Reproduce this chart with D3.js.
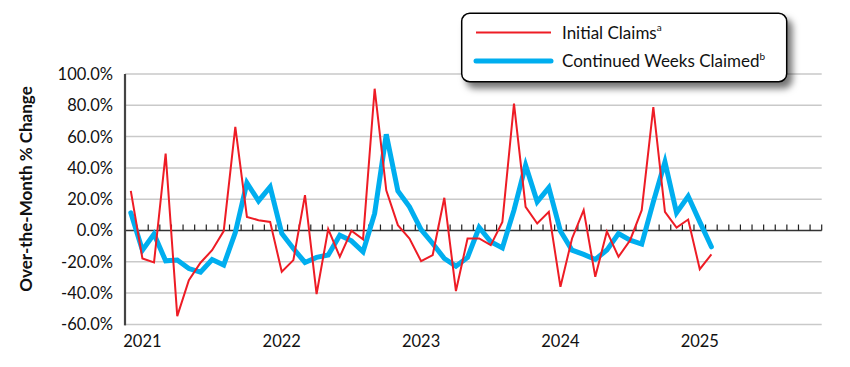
<!DOCTYPE html>
<html>
<head>
<meta charset="utf-8">
<script src="https://cdn.jsdelivr.net/npm/d3@7"></script>
<style>
  html, body { margin: 0; padding: 0; background: #fff; }
  svg { display: block; font-family: Lato, "Open Sans", sans-serif; }
</style>
</head>
<body>
<svg id="chart" width="850" height="367"></svg>
<script>
// Axis months (60 bands); data series cover the first 51
const months = [
  "Dec 2020","Jan 2021","Feb 2021","Mar 2021","Apr 2021","May 2021","Jun 2021","Jul 2021","Aug 2021","Sep 2021","Oct 2021","Nov 2021",
  "Dec 2021","Jan 2022","Feb 2022","Mar 2022","Apr 2022","May 2022","Jun 2022","Jul 2022","Aug 2022","Sep 2022","Oct 2022","Nov 2022",
  "Dec 2022","Jan 2023","Feb 2023","Mar 2023","Apr 2023","May 2023","Jun 2023","Jul 2023","Aug 2023","Sep 2023","Oct 2023","Nov 2023",
  "Dec 2023","Jan 2024","Feb 2024","Mar 2024","Apr 2024","May 2024","Jun 2024","Jul 2024","Aug 2024","Sep 2024","Oct 2024","Nov 2024",
  "Dec 2024","Jan 2025","Feb 2025","Mar 2025","Apr 2025","May 2025","Jun 2025","Jul 2025","Aug 2025","Sep 2025","Oct 2025","Nov 2025"
];
const yearLabels = ["2021","2022","2023","2024","2025"];
const yearLabelMonths = ["Jan 2021","Jan 2022","Jan 2023","Jan 2024","Jan 2025"];
const yTicks = [-60, -40, -20, 0, 20, 40, 60, 80, 100];

const initialClaims = [
  25.3, -17.9, -20.4, 49.1, -54.7, -31.7, -20.6, -12.6, -0.4, 66.2, 8.7, 6.6,
  5.5, -26.4, -18.9, 22.6, -40.6, 0.9, -16.8, -0.2, -5.7, 90.6, 25.7, 3.4,
  -5.1, -19.6, -15.7, 20.9, -38.7, -5.1, -5.1, -9.4, 5.5, 81.1, 15.1, 4.5,
  11.9, -36.0, -5.1, 13.0, -29.6, -0.6, -16.8, -6.2, 13.0, 78.9, 11.9, 1.9,
  7.0, -24.7, -15.3
];
const continuedWeeks = [
  11.3, -12.6, -2.3, -19.4, -18.9, -24.3, -26.6, -18.5, -22.1, -1.3, 30.4, 18.9,
  27.9, -1.9, -11.5, -20.4, -17.2, -15.7, -3.0, -6.6, -13.6, 10.9, 61.5, 25.3,
  15.1, 0.6, -8.3, -17.9, -22.8, -17.2, 1.9, -7.2, -11.1, 13.0, 41.7, 18.3,
  27.4, -0.4, -12.6, -15.3, -18.5, -12.5, -1.9, -6.2, -8.7, 18.3, 43.8, 11.3,
  21.9, 5.5, -10.4
];
const seriesNames = ["Initial Claims", "Continued Weeks Claimed"];
const seriesSup = ["a", "b"];

const svg = d3.select("#chart");
const plotLeft = 125, plotRight = 821.7, plotTop = 74, plotBottom = 324.4;

const x = d3.scaleBand().domain(months).range([plotLeft, plotRight]).padding(0);
const y = d3.scaleLinear().domain([-60, 100]).range([plotBottom, plotTop]);
const cx = m => x(m) + x.bandwidth() / 2;

// gridlines
svg.append("g").selectAll("line")
  .data(yTicks.filter(d => d !== 0))
  .join("line")
  .attr("x1", plotLeft).attr("x2", plotRight)
  .attr("y1", d => y(d)).attr("y2", d => y(d))
  .attr("stroke", "#c9c9c9").attr("stroke-width", 1.5);

// y tick labels
svg.append("g").selectAll("text")
  .data(yTicks)
  .join("text")
  .attr("x", 113).attr("y", d => y(d))
  .attr("dy", "0.36em")
  .attr("text-anchor", "end")
  .attr("font-size", 16.5)
  .attr("fill", "#111")
  .text(d => d.toFixed(1) + "%");

// y title
svg.append("text")
  .attr("transform", "translate(32,189) rotate(-90)")
  .attr("text-anchor", "middle")
  .attr("font-size", 17)
  .attr("font-weight", "bold")
  .attr("fill", "#111")
  .text("Over-the-Month % Change");

// zero line with tick marks
const zeroY = y(0);
svg.append("line")
  .attr("x1", plotLeft).attr("x2", plotRight)
  .attr("y1", zeroY).attr("y2", zeroY)
  .attr("stroke", "#333").attr("stroke-width", 1.5);
svg.append("g").selectAll("line")
  .data(months.slice(1).concat(["__end"]))
  .join("line")
  .attr("x1", d => d === "__end" ? plotRight : x(d))
  .attr("x2", d => d === "__end" ? plotRight : x(d))
  .attr("y1", zeroY).attr("y2", zeroY - 6)
  .attr("stroke", "#222").attr("stroke-width", 1.2);

// left axis line
svg.append("line")
  .attr("x1", plotLeft).attr("x2", plotLeft)
  .attr("y1", plotTop).attr("y2", plotBottom + 1)
  .attr("stroke", "#444").attr("stroke-width", 2.2);

// year labels
svg.append("g").selectAll("text")
  .data(yearLabels)
  .join("text")
  .attr("x", (d, i) => cx(yearLabelMonths[i]))
  .attr("y", 347)
  .attr("text-anchor", "middle")
  .attr("font-size", 16.5)
  .attr("fill", "#111")
  .text(d => d);

// lines
const dataMonths = months.slice(0, initialClaims.length);
const line = d3.line().x((d, i) => cx(dataMonths[i])).y(d => y(d));

svg.append("path")
  .datum(continuedWeeks)
  .attr("d", line)
  .attr("fill", "none")
  .attr("stroke", "#00aeef")
  .attr("stroke-width", 5)
  .attr("stroke-linejoin", "miter")
  .attr("stroke-linecap", "round");

svg.append("path")
  .datum(initialClaims)
  .attr("d", line)
  .attr("fill", "none")
  .attr("stroke", "#ee1c25")
  .attr("stroke-width", 2)
  .attr("stroke-linejoin", "miter");

// legend
const defs = svg.append("defs");
const f = defs.append("filter").attr("id", "shadow")
  .attr("x", "-10%").attr("y", "-20%").attr("width", "130%").attr("height", "160%");
f.append("feDropShadow")
  .attr("dx", 5).attr("dy", 6).attr("stdDeviation", 3.5)
  .attr("flood-color", "#000").attr("flood-opacity", 0.55);

const lg = svg.append("g");
lg.append("rect")
  .attr("x", 461.7).attr("y", 13.3)
  .attr("width", 325).attr("height", 68.4)
  .attr("rx", 8).attr("ry", 8)
  .attr("fill", "#fff")
  .attr("stroke", "#000").attr("stroke-width", 1.5)
  .attr("filter", "url(#shadow)");

const legendColors = ["#ee1c25", "#00aeef"];
const legendWidths = [2, 5];
const legendY = [32.5, 61];
seriesNames.forEach((name, i) => {
  lg.append("line")
    .attr("x1", 476).attr("x2", 551)
    .attr("y1", legendY[i]).attr("y2", legendY[i])
    .attr("stroke", legendColors[i])
    .attr("stroke-width", legendWidths[i])
    .attr("stroke-linecap", i === 1 ? "round" : "butt");
  const t = lg.append("text")
    .attr("x", 562).attr("y", legendY[i])
    .attr("dy", "0.36em")
    .attr("font-size", 17)
    .attr("fill", "#111");
  t.append("tspan").text(name);
  t.append("tspan").attr("font-size", 10).attr("dy", "-0.75em").text(seriesSup[i]);
});
</script>
</body>
</html>
